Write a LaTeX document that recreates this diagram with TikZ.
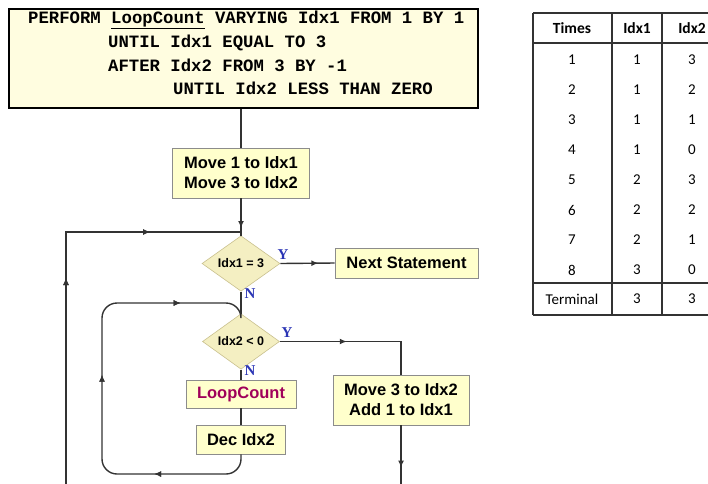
\documentclass[tikz,border=0pt]{standalone}
\usepackage{fontspec}
\setmainfont{Liberation Sans}
\newfontfamily\monofont{Liberation Mono}
\newfontfamily\calfont{Carlito}
\newfontfamily\yfont{Liberation Serif}
\usetikzlibrary{shapes.geometric,decorations.markings,arrows.meta}
\definecolor{topfill}{HTML}{FFFDE0}
\definecolor{boxfill}{HTML}{FFFFCC}
\definecolor{boxline}{HTML}{8C8C8C}
\definecolor{diafill}{HTML}{F4EFC2}
\definecolor{dialine}{HTML}{C9C08E}
\definecolor{lnk}{HTML}{333333}
\definecolor{ynblue}{HTML}{2B35B5}
\definecolor{lcred}{HTML}{A0005A}
\tikzset{
  procbox/.style={draw=boxline, line width=0.8pt, fill=boxfill, inner sep=0pt, align=center,
    font=\bfseries\fontsize{16.5}{20}\selectfont},
  decbox/.style={diamond, draw=dialine, line width=0.6pt, fill=diafill, inner sep=0pt,
    font=\bfseries\fontsize{12.5}{14}\selectfont},
  link/.style={draw=lnk, line width=1.4pt},
  tipat/.style={postaction={decorate}, decoration={markings,
    mark=at position #1 with {\arrow{Latex[length=7pt,width=6pt]}}}},
  yn/.style={text=ynblue, font=\yfont\bfseries\fontsize{15}{15}\selectfont, inner sep=0pt},
  codeline/.style={anchor=west, inner sep=0pt, font=\monofont\bfseries\fontsize{17.3}{20}\selectfont},
  tcell/.style={inner sep=0pt, font=\calfont\fontsize{15}{17}\selectfont},
  thead/.style={inner sep=0pt, font=\calfont\bfseries\fontsize{15.5}{17}\selectfont},
  tline/.style={draw=lnk, line width=1.3pt},
}
\begin{document}
\begin{tikzpicture}[x=1pt,y=-1pt]
\useasboundingbox (0,0) rectangle (708,483);
% top code box
\node[draw=black, line width=2pt, fill=topfill, minimum width=469pt, minimum height=99pt, inner sep=0pt]
  (perform) at (243.5,58.5) {};
\node[codeline] (c1) at (28,20) {PERFORM \underline{LoopCount} VARYING Idx1 FROM 1 BY 1};
\node[codeline] (c2) at (108,43) {UNTIL Idx1 EQUAL TO 3};
\node[codeline] (c3) at (108,65.5) {AFTER Idx2 FROM 3 BY -1};
\node[codeline] (c4) at (173,88) {UNTIL Idx2 LESS THAN ZERO};
% flowchart
\node[procbox, minimum width=137pt, minimum height=50pt] (move1) at (241,173) {Move 1 to Idx1\\Move 3 to Idx2};
\node[decbox, minimum width=78pt, minimum height=47pt] (d1) at (241,263.5) {Idx1 = 3};
\node[procbox, minimum width=143pt, minimum height=30pt] (next) at (406.5,263) {Next Statement};
\node[decbox, minimum width=77pt, minimum height=47pt] (d2) at (241,341.5) {Idx2 {\textless} 0};
\node[procbox, minimum width=110pt, minimum height=28pt, text=lcred] (lc) at (241,394) {LoopCount};
\node[procbox, minimum width=89pt, minimum height=29pt] (dec) at (241,439.5) {Dec Idx2};
\node[procbox, minimum width=136pt, minimum height=50pt] (move3) at (401,400) {Move 3 to Idx2\\Add 1 to Idx1};
\node[yn] (y1) at (283,255) {Y};
\node[yn] (n1) at (250,294) {N};
\node[yn] (y2) at (287,333) {Y};
\node[yn] (n2) at (250,371) {N};
\coordinate (lb) at (66,484);
\coordinate (j1) at (241,232);
\coordinate (mb) at (401,484);
\coordinate (ibr) at (241,474);
\coordinate (ibl) at (102,474);
\coordinate (itl) at (102,303);
\coordinate (itr) at (241,303);
\path[link] (move1.north |- perform.south) -- (move1.north);
\path[link, tipat=0.8] (move1.south) -- (d1.north);
\path[link, tipat=206pt, postaction={decorate}, decoration={markings,
   mark=at position 336pt with {\arrow{Latex[length=7pt,width=6pt]}}}] (lb) |- (j1);
\path[link, tipat=0.7] (d1.east) -- (next.west);
\path[link] (d1.south) -- (d2.north);
\path[link, tipat=67pt] (d2.east) -| (move3.north);
\path[link, tipat=0.72] (move3.south) -- (mb);
\path[link] (d2.south) -- (lc.north);
\path[link] (lc.south) -- (dec.north);
\path[link, rounded corners=15pt, tipat=100pt,
  postaction={decorate}, decoration={markings,
   mark=at position 245pt with {\arrow{Latex[length=7pt,width=6pt]}},
   mark=at position 389pt with {\arrow{Latex[length=7pt,width=6pt]}}}]
  (dec.south) -- (ibr) -- (ibl) -- (itl) -- (itr) -- (d2.north);
% table
\draw[tline] (533,13) -- (708,13);
\draw[tline] (533,43) -- (708,43);
\draw[tline] (533,283) -- (708,283);
\draw[tline] (533,315) -- (708,315);
\draw[tline] (533,13) -- (533,315);
\draw[tline] (612,13) -- (612,315);
\draw[tline] (662,13) -- (662,315);
\node[thead] (h1) at (572,28) {Times};
\node[thead] (h2) at (637,28) {Idx1};
\node[thead] (h3) at (692,28) {Idx2};
\foreach \t/\a/\b [count=\i] in {1/1/3,2/1/2,3/1/1,4/1/0,5/2/3,6/2/2,7/2/1,8/3/0}{
  \node[tcell] (r\i a) at (572,30+30*\i) {\t};
  \node[tcell] (r\i b) at (637,30+30*\i) {\a};
  \node[tcell] (r\i c) at (692,30+30*\i) {\b};
}
\node[tcell] (ta) at (572,299) {Terminal};
\node[tcell] (tb) at (637,299) {3};
\node[tcell] (tc) at (692,299) {3};
\end{tikzpicture}
\end{document}
